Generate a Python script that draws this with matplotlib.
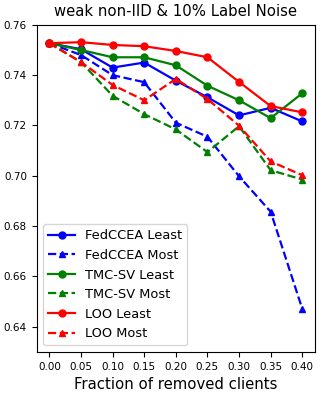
import matplotlib.pyplot as plt

# fraction of removed clients
fractions = [0.00, 0.05, 0.10, 0.15, 0.20, 0.25, 0.30, 0.35, 0.40]

fedccea_least = [0.7527, 0.7503, 0.7430, 0.7450, 0.7378, 0.7312, 0.7240, 0.7270, 0.7216]
fedccea_most = [0.7527, 0.7480, 0.7400, 0.7372, 0.7211, 0.7155, 0.6998, 0.6857, 0.6471]
tmcsv_least = [0.7527, 0.7500, 0.7471, 0.7471, 0.7439, 0.7358, 0.7300, 0.7229, 0.7328]
tmcsv_most = [0.7527, 0.7452, 0.7318, 0.7245, 0.7184, 0.7094, 0.7197, 0.7022, 0.6985]
loo_least = [0.7527, 0.7531, 0.7520, 0.7515, 0.7496, 0.7471, 0.7373, 0.7277, 0.7252]
loo_most = [0.7527, 0.7452, 0.7361, 0.7300, 0.7385, 0.7305, 0.7199, 0.7057, 0.7002]

fig = plt.figure(figsize=(3.22, 3.94), dpi=100)
ax = fig.add_axes([0.114, 0.107, 0.864, 0.83])

ms = 5
lw = 1.6
ax.plot(fractions, fedccea_least, color='blue', marker='o', linestyle='-', lw=lw, ms=ms, label='FedCCEA Least')
ax.plot(fractions, fedccea_most, color='blue', marker='^', linestyle='--', lw=lw, ms=ms, label='FedCCEA Most')
ax.plot(fractions, tmcsv_least, color='green', marker='o', linestyle='-', lw=lw, ms=ms, label='TMC-SV Least')
ax.plot(fractions, tmcsv_most, color='green', marker='^', linestyle='--', lw=lw, ms=ms, label='TMC-SV Most')
ax.plot(fractions, loo_least, color='red', marker='o', linestyle='-', lw=lw, ms=ms, label='LOO Least')
ax.plot(fractions, loo_most, color='red', marker='^', linestyle='--', lw=lw, ms=ms, label='LOO Most')

ax.set_ylim(0.63, 0.76)
ax.set_xticks(fractions)
ax.set_xticklabels(['%.2f' % f for f in fractions])
ax.tick_params(labelsize=7.5)
ax.set_title('weak non-IID & 10% Label Noise', fontsize=10.7)
ax.set_xlabel('Fraction of removed clients', fontsize=10.7)
ax.legend(loc='lower left', fontsize=9.4)

plt.savefig('out.png', dpi=100)
